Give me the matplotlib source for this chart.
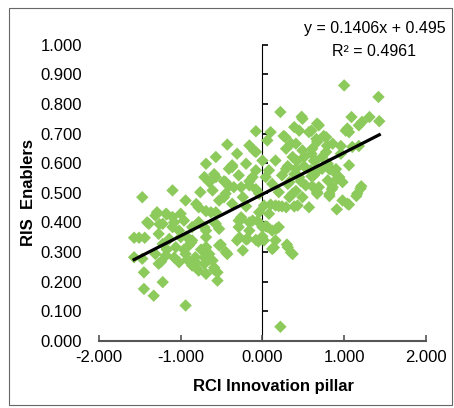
import numpy as np
import matplotlib.pyplot as plt
from matplotlib.patches import Rectangle
from matplotlib.ticker import FormatStrFormatter, MultipleLocator

plt.rcParams['font.family'] = ['Liberation Sans', 'DejaVu Sans']

# valori (RCI innovation pillar vs RIS enablers)
rci = [1.00, 1.42, 0.22, -0.08, 1.09, 1.31, 1.43, 0.49, 1.18, 0.69,
       0.39, 0.10, 0.57, 0.78, 1.06, 0.28, -0.43, 0.06, -0.16, 0.41,
       0.86, 1.10, 0.61, 0.29, 0.49, -0.08, -0.31, 0.96, -0.57, -0.69,
       -0.37, -0.20, 0.00, 0.16, 0.37, 0.51, 0.65, 0.80, 1.06, -0.41,
       -0.08, 0.08, 0.29, 0.41, 0.59, 0.73, 0.88, -0.71, -0.57, -0.29,
       -0.12, 0.04, 0.24, 0.45, 0.63, 0.80, 0.98, -0.65, -0.45, -0.35,
       -0.16, 0.12, 0.33, 0.53, 0.69, 0.86, -1.10, -0.76, -0.61, -0.45,
       -0.24, -0.04, 0.20, 0.37, 0.49, 0.67, 1.20, 1.16, 0.98, 1.04,
       -1.47, -0.94, -0.53, -0.37, 0.02, 0.16, 0.29, 0.43, 0.57, -0.78,
       -0.63, -1.00, -0.04, 0.08, -1.31, -1.18, -1.10, -0.96, -0.78, -0.57,
       -0.29, -0.12, -1.39, -1.22, -1.10, -1.02, -0.86, -0.69, -0.53, -0.29,
       -0.16, 0.00, 0.12, 0.20, -1.57, -1.51, -1.44, -1.27, -1.14, -1.00,
       -0.86, -0.69, -0.31, -0.18, -0.08, 0.02, 0.16, -1.22, -1.06, -0.90,
       -0.69, -0.53, 0.12, 0.31, -1.57, -1.47, -1.31, -1.18, -0.94, -0.82,
       -0.65, -0.43, -0.24, 0.37, -1.27, -1.02, -0.86, -0.71, -0.61, -0.78,
       -0.69, -0.55, -1.45, -1.22, -0.55, -1.45, -1.33, -0.94, 0.22, 1.22,
       1.02, 0.67, 0.60, 0.75, 0.66, 0.96, 1.18, 0.78, 0.63, 0.82,
       0.90, 0.60, 0.91, 1.21, 0.85, 0.82, 1.06, 0.10, 0.20, -0.26,
       -0.16, -0.06, 0.06, 0.17, -0.20, -0.05, 0.14, 0.30, 0.35, -0.69,
       -0.45, -0.65, -0.59, -1.29, -1.17, -0.81, -0.69, -1.41, -1.26, -1.08,
       -0.71, -0.59, -0.93, -0.87, -1.17, -0.96, -0.75, -1.24, -1.08, -0.92,
       -0.81, -0.71, -0.59, -0.10, -0.37, -0.59, -0.47, -0.16, -0.41, -0.26,
       -0.08, -0.47, -0.20, 0.24, -0.57, -0.26, 0.04, -0.28, 0.00, -0.51,
       0.26, 0.48, 1.04, 0.45, 0.35, 0.67, 0.79, 0.60, 0.73, 0.42,
       0.31, 0.51, 0.84, 0.66, 0.39, 0.94, 0.47, 0.31, 0.61, 0.41,
       0.67, 0.33, 0.82, 1.15, 0.39, 0.91]
ris = [0.863, 0.824, 0.773, 0.708, 0.756, 0.756, 0.742, 0.750, 0.728, 0.728,
       0.722, 0.705, 0.705, 0.688, 0.705, 0.688, 0.663, 0.677, 0.660, 0.666,
       0.666, 0.655, 0.649, 0.649, 0.643, 0.638, 0.632, 0.632, 0.621, 0.598,
       0.593, 0.598, 0.609, 0.609, 0.621, 0.621, 0.609, 0.598, 0.593, 0.581,
       0.576, 0.576, 0.581, 0.581, 0.576, 0.581, 0.570, 0.553, 0.553, 0.559,
       0.553, 0.553, 0.559, 0.553, 0.559, 0.542, 0.536, 0.536, 0.536, 0.519,
       0.525, 0.530, 0.536, 0.525, 0.519, 0.519, 0.508, 0.502, 0.508, 0.497,
       0.485, 0.497, 0.502, 0.497, 0.485, 0.497, 0.514, 0.497, 0.474, 0.463,
       0.485, 0.474, 0.474, 0.463, 0.457, 0.457, 0.451, 0.457, 0.451, 0.451,
       0.434, 0.429, 0.434, 0.429, 0.423, 0.429, 0.418, 0.406, 0.401, 0.395,
       0.406, 0.406, 0.395, 0.395, 0.384, 0.372, 0.384, 0.372, 0.378, 0.384,
       0.372, 0.384, 0.372, 0.384, 0.348, 0.348, 0.348, 0.361, 0.344, 0.350,
       0.339, 0.350, 0.339, 0.344, 0.341, 0.339, 0.339, 0.327, 0.316, 0.322,
       0.316, 0.322, 0.310, 0.316, 0.282, 0.277, 0.293, 0.288, 0.293, 0.282,
       0.293, 0.293, 0.305, 0.293, 0.260, 0.265, 0.254, 0.260, 0.271, 0.237,
       0.226, 0.231, 0.231, 0.198, 0.203, 0.175, 0.152, 0.119, 0.047, 0.740,
       0.710, 0.734, 0.710, 0.692, 0.682, 0.658, 0.658, 0.638, 0.608, 0.580,
       0.580, 0.556, 0.546, 0.522, 0.512, 0.496, 0.460, 0.460, 0.455, 0.417,
       0.400, 0.405, 0.385, 0.378, 0.342, 0.335, 0.315, 0.325, 0.298, 0.315,
       0.300, 0.275, 0.240, 0.434, 0.427, 0.462, 0.438, 0.400, 0.394, 0.400,
       0.383, 0.400, 0.352, 0.332, 0.308, 0.308, 0.308, 0.267, 0.281, 0.274,
       0.263, 0.281, 0.247, 0.642, 0.587, 0.563, 0.539, 0.539, 0.522, 0.519,
       0.512, 0.485, 0.454, 0.454, 0.434, 0.410, 0.387, 0.349, 0.352, 0.325,
       0.692, 0.757, 0.717, 0.710, 0.666, 0.672, 0.659, 0.632, 0.621, 0.608,
       0.590, 0.590, 0.580, 0.570, 0.563, 0.553, 0.539, 0.530, 0.522, 0.506,
       0.502, 0.485, 0.489, 0.489, 0.454, 0.444]

# linea di tendenza (da Excel)
slope = 0.1406
intercept = 0.495
r_squared = 0.4961

fig = plt.figure(figsize=(4.54, 4.08), dpi=100)
ax = fig.add_axes([0.218, 0.165, 0.72, 0.725])

ax.scatter(rci, ris, marker='D', s=40, color='#8dca5c', edgecolors='none', zorder=2)

xs = np.array([min(rci), max(rci)])
ax.plot(xs, slope * xs + intercept, color='black', linewidth=2.3, zorder=3)

ax.set_xlim(-2, 2)
ax.set_ylim(0, 1)
ax.xaxis.set_major_locator(MultipleLocator(1))
ax.yaxis.set_major_locator(MultipleLocator(0.1))
ax.xaxis.set_major_formatter(FormatStrFormatter('%.3f'))
ax.yaxis.set_major_formatter(FormatStrFormatter('%.3f'))

for s in ['top', 'right', 'left']:
    ax.spines[s].set_visible(False)
ax.spines['bottom'].set_color('#555555')
ax.spines['bottom'].set_linewidth(1.5)
ax.tick_params(axis='x', direction='in', length=4, width=1.2, color='#555555',
               pad=7, labelsize=12)
ax.tick_params(axis='y', length=0, pad=12, labelsize=12)

# asse verticale che incrocia a x = 0
vax = ax.secondary_yaxis(0.5)
vax.yaxis.set_major_locator(MultipleLocator(0.1))
vax.spines['left'].set_linewidth(1.5)
vax.spines['left'].set_color('black')
vax.tick_params(direction='out', length=4, width=1.2, labelleft=False, labelright=False)

ax.set_xlabel('RCI Innovation pillar', fontsize=12, fontweight='bold')
ax.xaxis.set_label_coords(0.535, -0.155)
ax.xaxis.label.set_va('center')
ax.set_ylabel('RIS  Enablers', fontsize=12, fontweight='bold')
ax.yaxis.set_label_coords(-0.217, 0.5)
ax.yaxis.label.set_va('center')

fig.text(375 / 454, 1 - 28 / 408, f'y = {slope}x + {intercept}', ha='center', va='center', fontsize=11.5)
fig.text(374 / 454, 1 - 52 / 408, f'R² = {r_squared}', ha='center', va='center', fontsize=11.5)

fig.patches.append(Rectangle((9 / 454, 3 / 408), 443 / 454, 397 / 408, transform=fig.transFigure,
                             fill=False, edgecolor='#666666', linewidth=0.8))

fig.savefig('out.png', dpi=100)
